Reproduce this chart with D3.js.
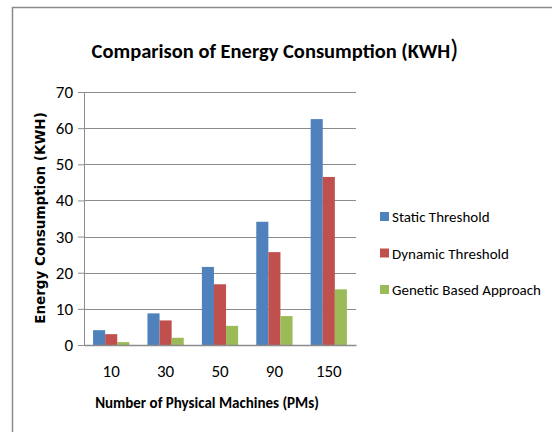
<!DOCTYPE html>
<html>
<head>
<meta charset="utf-8">
<script src="https://cdn.jsdelivr.net/npm/d3@7"></script>
<style>
  body { margin: 0; background: #fff; }
</style>
</head>
<body>
<script>
var categories = ['10', '30', '50', '90', '150'],
	seriesNames = ['Static Threshold', 'Dynamic Threshold', 'Genetic Based Approach'],
	staticVals = [4.1, 8.75, 21.6, 34.1, 62.5],
	dynamicVals = [3.0, 6.8, 16.8, 25.7, 46.5],
	geneticVals = [0.8, 2.0, 5.3, 8.0, 15.4],
	yTicks = [0, 10, 20, 30, 40, 50, 60, 70],
	colors = ['#4F81BD', '#C0504D', '#9BBB59'];

var series = [staticVals, dynamicVals, geneticVals];

var W = 552, H = 432;
var margin = {top: 92, left: 84},
	width = 356 - 84,
	height = 345 - 92;

var base = 'Carlito, Calibri, Lato, sans-serif';

var svg = d3.select('body')
	.append('svg')
	.attr('width', W)
	.attr('height', H)
	.style('font-family', base);

// outer chart frame (runs past the picture edges)
svg.append('rect')
	.attr('x', 12.5).attr('y', 7.5)
	.attr('width', W + 20).attr('height', H + 20)
	.attr('fill', 'none')
	.attr('stroke', '#8a8a8a')
	.attr('stroke-width', 1.5);

// title
var title = svg.append('text')
	.attr('x', 275).attr('y', 58)
	.attr('text-anchor', 'middle')
	.style('font-size', '20.5px')
	.style('font-weight', 'bold')
	.text('Comparison of Energy Consumption (KWH');
title.append('tspan')
	.style('font-size', '27px')
	.style('font-weight', 'normal')
	.text(')');

var x0 = d3.scaleBand()
	.domain(categories)
	.range([0, width])
	.paddingInner(1.5 / 4.5)
	.paddingOuter(0.75 / 4.5);

var x1 = d3.scaleBand()
	.domain(d3.range(series.length))
	.range([0, x0.bandwidth()]);

var y = d3.scaleLinear()
	.domain([0, 70])
	.range([height, 0]);

var main = svg.append('g')
	.attr('transform', 'translate(' + margin.left + ',' + margin.top + ')');

// gridlines
main.selectAll('.grid')
	.data(yTicks.slice(1))
	.enter().append('line')
	.attr('x1', 0).attr('x2', width)
	.attr('y1', function(d) { return Math.round(y(d)) + 0.5; })
	.attr('y2', function(d) { return Math.round(y(d)) + 0.5; })
	.attr('stroke', '#8c8c8c')
	.attr('stroke-width', 1);

// y axis
var yAxis = d3.axisLeft(y)
	.tickValues(yTicks)
	.tickSize(6)
	.tickPadding(5);

var gy = main.append('g')
	.call(yAxis);
gy.select('.domain').attr('stroke', '#8c8c8c');
gy.selectAll('.tick line').attr('stroke', '#8c8c8c');
gy.selectAll('.tick text')
	.style('font-size', '17px')
	.style('font-family', base)
	.attr('fill', '#000');

// bars
var groups = main.selectAll('.grp')
	.data(categories)
	.enter().append('g')
	.attr('transform', function(d) { return 'translate(' + x0(d) + ',0)'; });

groups.selectAll('rect')
	.data(function(d, i) { return series.map(function(s, j) { return {k: j, v: s[i]}; }); })
	.enter().append('rect')
	.attr('x', function(d) { return x1(d.k); })
	.attr('y', function(d) { return y(d.v); })
	.attr('width', x1.bandwidth())
	.attr('height', function(d) { return height - y(d.v); })
	.attr('fill', function(d) { return colors[d.k]; });

// x axis
var xAxis = d3.axisBottom(x0)
	.tickSize(0)
	.tickPadding(20);

var gx = main.append('g')
	.attr('transform', 'translate(0,' + height + ')')
	.call(xAxis);
gx.select('.domain').attr('stroke', '#8c8c8c').attr('stroke-width', 1.5);
gx.selectAll('.tick text')
	.style('font-size', '17px')
	.style('font-family', base)
	.attr('fill', '#000');

// axis titles
svg.append('text')
	.attr('x', 207).attr('y', 408)
	.attr('text-anchor', 'middle')
	.style('font-size', '15px')
	.style('font-weight', 'bold')
	.text('Number of Physical Machines (PMs)');

svg.append('text')
	.attr('transform', 'translate(45,218) rotate(-90)')
	.attr('text-anchor', 'middle')
	.style('font-size', '13.5px')
	.style('font-weight', 'bold')
	.style('font-family', '"DejaVu Sans", Verdana, sans-serif')
	.text('Energy Consumption (KWH)');

// legend
var legend = svg.selectAll('.leg')
	.data(seriesNames)
	.enter().append('g')
	.attr('transform', function(d, i) { return 'translate(380,' + (212 + i * 36.5) + ')'; });

legend.append('rect')
	.attr('width', 9).attr('height', 9)
	.attr('fill', function(d, i) { return colors[i]; });

legend.append('text')
	.attr('x', 12).attr('y', 10)
	.style('font-size', '15px')
	.text(function(d) { return d; });
</script>
</body>
</html>
